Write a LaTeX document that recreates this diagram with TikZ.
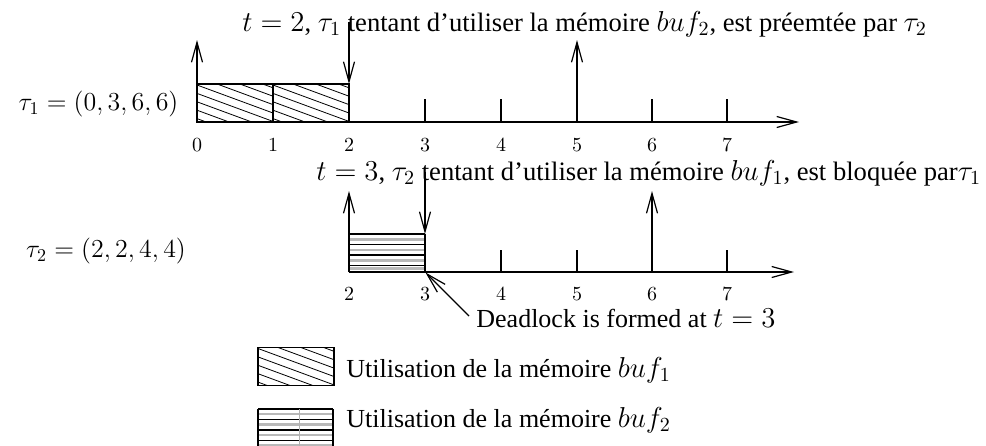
\documentclass[tikz,border=0pt]{standalone}
\usepackage{graphicx}
\usepackage[no-math]{fontspec}
\setmainfont{Liberation Serif}
\usetikzlibrary{arrows.meta}
\newcommand\myhatch[2]{%
  \begin{scope}
    \clip (#1,#2) rectangle ++(76,38);
    \foreach \k in {-5,...,5} {\draw[hatchln] (#1,#2+1+8.4*\k) -- ++(76,28);}
  \end{scope}
  \draw[ln] (#1,#2) rectangle ++(76,38);
}
\newcommand\mth[1]{{\fontsize{14}{16}\selectfont$#1$}}
\newcommand\mtl[1]{\scalebox{0.9}{\mth{#1}}}
\begin{document}
\begin{tikzpicture}[x=0.5pt,y=-0.5pt,
  arr/.style={-{Straight Barb[length=10pt,width=5.5pt]}, line width=0.6pt},
  ln/.style={line width=0.65pt},
  hatchln/.style={line width=0.4pt},
  blk/.style={line width=0.8pt},
  gry/.style={line width=1.4pt, gray!55},
  lbl/.style={font=\fontsize{13}{15}\selectfont, inner sep=0pt},
  ttl/.style={font=\fontsize{13.3}{15}\selectfont, inner sep=0pt},
  num/.style={font=\fontsize{10}{11}\selectfont, inner sep=0pt},
  ]
\useasboundingbox (0,0) rectangle (986,445);

% ---------- task 1 ----------
\node[lbl] (lab1) at (98.5,104) {\mtl{\tau_1=(0,3,6,6)}};
\node[ttl, anchor=base west] (title1) at (242,31) {\mth{t=2}, \mth{\tau_1} tentant d'utiliser la mémoire \mth{buf_2}, est préemtée par \mth{\tau_2}};

\myhatch{197}{84}
\myhatch{273}{84}

\coordinate (a1s) at (197,122);
\coordinate (a1e) at (799,122);
\draw[arr] (a1s) -- (a1e);
\foreach \i/\x in {0/197,1/273,2/349,3/425,4/501,5/577,6/652,7/727} {
  \node[num] (n1\i) at (\x,145.5) {$\i$};
}
\foreach \x in {425,501,652,727} {\draw[ln] (\x,122) -- (\x,99);}
\coordinate (r1a) at (197,122); \coordinate (r1b) at (197,40);
\draw[arr] (r1a) -- (r1b);
\coordinate (r1c) at (577,122); \coordinate (r1d) at (577,40);
\draw[arr] (r1c) -- (r1d);
\coordinate (p1a) at (349,22); \coordinate (p1b) at (349,84);
\draw[arr] (p1a) -- (p1b);

% ---------- task 2 ----------
\node[lbl] (lab2) at (106,251) {\mtl{\tau_2=(2,2,4,4)}};
\node[ttl, anchor=base west] (title2) at (316,180) {\mth{t=3}, \mth{\tau_2} tentant d'utiliser la mémoire \mth{buf_1}, est bloquée par\mth{\tau_1}};

\foreach \y in {239.5,250,260.5,268.8} {\draw[gry] (349,\y) -- (425,\y);}
\foreach \y in {234,244.5,255,265.5} {\draw[blk] (349,\y) -- (425,\y);}
\draw[ln] (349,234) -- (349,272);
\draw[ln] (425,234) -- (425,272);

\coordinate (a2s) at (349,272);
\coordinate (a2e) at (794,272);
\draw[arr] (a2s) -- (a2e);
\foreach \i/\x in {2/349,3/425,4/501,5/577,6/652,7/727} {
  \node[num] (n2\i) at (\x,294.5) {$\i$};
}
\foreach \x in {501,577,727} {\draw[ln] (\x,272) -- (\x,250);}
\coordinate (r2a) at (349,272); \coordinate (r2b) at (349,191);
\draw[arr] (r2a) -- (r2b);
\coordinate (r2c) at (652,272); \coordinate (r2d) at (652,191);
\draw[arr] (r2c) -- (r2d);
\coordinate (p2a) at (425,172); \coordinate (p2b) at (425,234);
\draw[arr] (p2a) -- (p2b);

\node[lbl, anchor=base west] (dl) at (476,327) {Deadlock is formed at \mth{t=3}};
\coordinate (dls) at (469,316);
\coordinate (dle) at (425.5,272.5);
\draw[arr] (dls) -- (dle);

% ---------- legend ----------
\myhatch{258}{347.5}
\node[lbl, anchor=base west] (leg1) at (346,377) {Utilisation de la mémoire \mth{buf_1}};

\begin{scope}
  \clip (250,400) rectangle (340,445);
  \foreach \y in {414,424.5,435,445} {\draw[gry] (258,\y) -- (333,\y);}
  \foreach \y in {409,419.5,430,440.5} {\draw[blk] (258,\y) -- (333,\y);}
  \draw[line width=0.4pt, gray!60] (299,409) -- (299,450);
  \draw[ln] (258,409) -- (258,450);
  \draw[ln] (333,409) -- (333,450);
\end{scope}
\node[lbl, anchor=base west] (leg2) at (346,427) {Utilisation de la mémoire \mth{buf_2}};
\end{tikzpicture}
\end{document}
